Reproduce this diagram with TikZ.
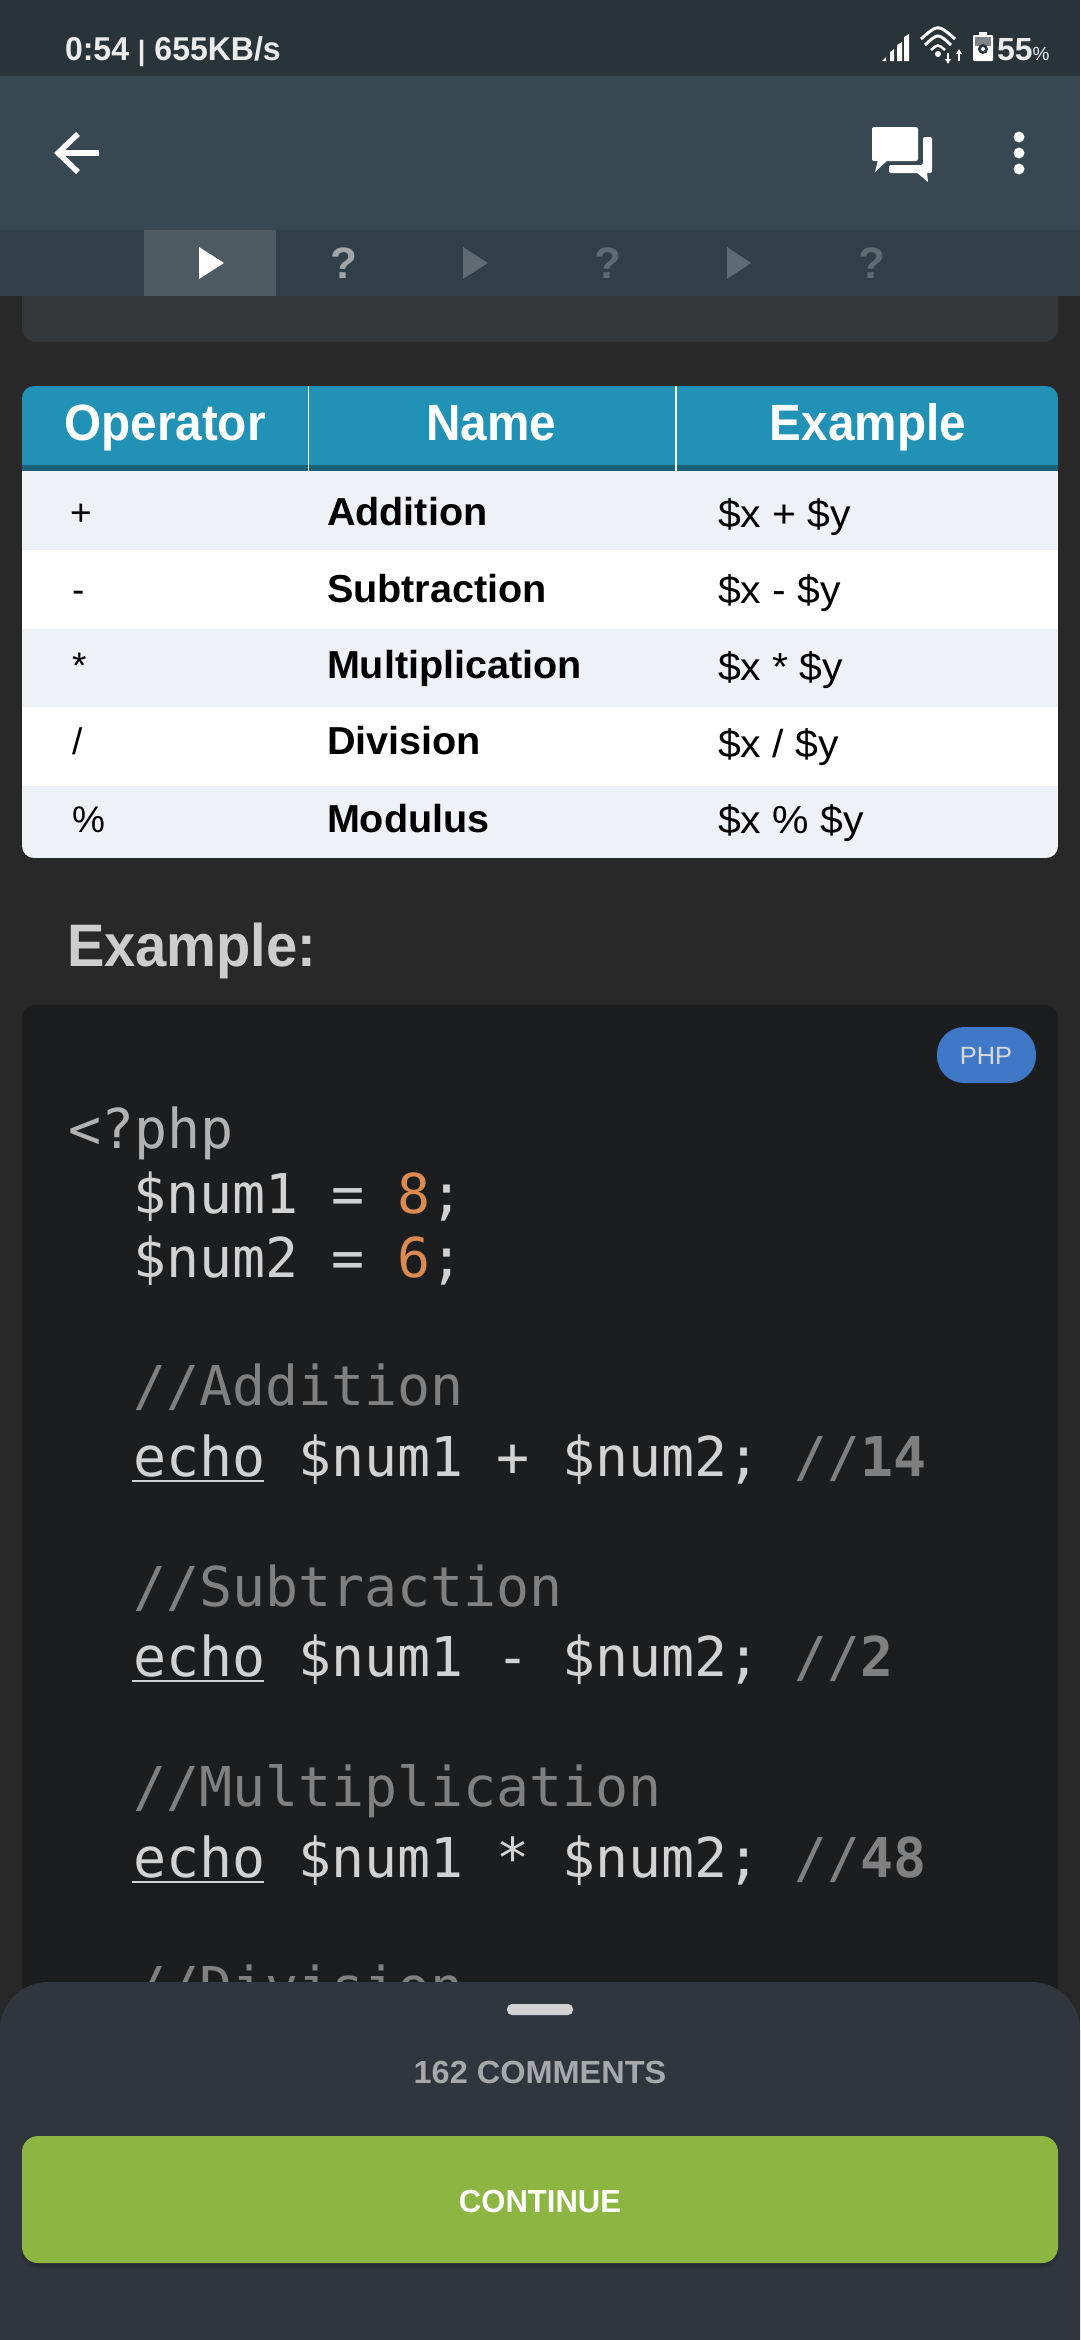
\documentclass[tikz,border=0pt]{standalone}
\usepackage{fontspec}
\usetikzlibrary{arrows.meta}
\setmainfont{Liberation Sans}
\newfontfamily\headf[FakeStretch=1.015]{Liberation Sans}
\newfontfamily\exf[FakeStretch=1.05]{Liberation Sans}
\newfontfamily\titlef[FakeStretch=0.935]{Liberation Sans}
\newfontfamily\statf[FakeStretch=0.97]{Liberation Sans}
\newfontfamily\monof{DejaVu Sans Mono}
\definecolor{statusbg}{HTML}{29333A}
\definecolor{appbg}{HTML}{384852}
\definecolor{tabbg}{HTML}{303F48}
\definecolor{tabact}{HTML}{4E5A62}
\definecolor{tabdim}{HTML}{5F6A72}
\definecolor{tabmid}{HTML}{A0A6AA}
\definecolor{pagebg}{HTML}{282828}
\definecolor{cardbg}{HTML}{34373A}
\definecolor{thead}{HTML}{2291B6}
\definecolor{theadd}{HTML}{1B6478}
\definecolor{rowa}{HTML}{EEF1F6}
\definecolor{codebg}{HTML}{1C1D1F}
\definecolor{codefg}{HTML}{D2D2D2}
\definecolor{codecm}{HTML}{808080}
\definecolor{codenum}{HTML}{DD8A50}
\definecolor{badge}{HTML}{3F78C6}
\definecolor{sheet}{HTML}{31363E}
\definecolor{btn}{HTML}{8DB542}
\definecolor{headg}{HTML}{CDCDCD}
\definecolor{cmt}{HTML}{A6A8AA}
\tikzset{
  txt/.style={inner sep=0pt,outer sep=0pt,anchor=base west},
  txtc/.style={inner sep=0pt,outer sep=0pt,anchor=base},
  hcell/.style={txtc,text=white,font=\titlef\bfseries\fontsize{51}{51}\selectfont},
  opcell/.style={txt,text=black,font=\fontsize{37}{37}\selectfont},
  namecell/.style={txt,text=black,font=\headf\bfseries\fontsize{39}{39}\selectfont},
  excell/.style={txt,text=black,font=\exf\fontsize{39}{39}\selectfont},
  codetxt/.style={txt,text=codefg,font=\monof\fontsize{54.9}{54.9}\selectfont},
  cmtxt/.style={codetxt,text=codecm},
  status/.style={txt,text=white!92!black,font=\statf\bfseries\fontsize{33}{33}\selectfont},
  tabq/.style={txtc,font=\bfseries\fontsize{44}{44}\selectfont},
}
\newcommand{\bd}[1]{{\bfseries #1}}
\begin{document}
\begin{tikzpicture}[x=1pt,y=-1pt]
\useasboundingbox (0,0) rectangle (1080,2340);
\fill[pagebg] (0,0) rectangle (1080,2340);
% top card
\fill[cardbg,rounded corners=14pt] (22,250) rectangle (1058,342);
% table
\begin{scope}
\clip[rounded corners=12pt] (22,386) rectangle (1058,858);
\fill[thead] (22,386) rectangle (1058,465);
\fill[theadd] (22,465) rectangle (1058,471);
\fill[rowa] (22,471) rectangle (1058,550);
\fill[white] (22,550) rectangle (1058,629);
\fill[rowa] (22,629) rectangle (1058,707);
\fill[white] (22,707) rectangle (1058,786);
\fill[rowa] (22,786) rectangle (1058,858);
\end{scope}
\draw[white,line width=1.5pt] (308.5,386) -- (308.5,471);
\draw[white,line width=1.5pt] (676,386) -- (676,471);
\node[hcell] (h1) at (165,440) {Operator};
\node[hcell] (h2) at (491,440) {Name};
\node[hcell] (h3) at (868,440) {Example};
\node[opcell] (o1) at (70,525) {+};
\node[opcell] (o2) at (72,602) {-};
\node[opcell] (o3) at (72,678) {*};
\node[opcell] (o4) at (72,754) {/};
\node[opcell] (o5) at (72,832) {\%};
\node[namecell] (n1) at (327,525) {Addition};
\node[namecell] (n2) at (327,602) {Subtraction};
\node[namecell] (n3) at (327,678) {Multiplication};
\node[namecell] (n4) at (327,754) {Division};
\node[namecell] (n5) at (327,832) {Modulus};
\node[excell] (e1) at (718,527) {\$x + \$y};
\node[excell] (e2) at (718,603) {\$x - \$y};
\node[excell] (e3) at (718,680) {\$x * \$y};
\node[excell] (e4) at (718,757) {\$x / \$y};
\node[excell] (e5) at (718,833) {\$x \% \$y};
% heading
\node[txt,text=headg,font=\titlef\bfseries\fontsize{60}{60}\selectfont] (exh) at (67,966) {Example:};
% code box
\fill[codebg,rounded corners=12pt] (22,1005) rectangle (1058,2100);
\fill[badge,rounded corners=27pt] (937,1027) rectangle (1036,1083);
\node[txtc,text=white!85!black,font=\headf\fontsize{25}{25}\selectfont] (php) at (986,1064) {PHP};
\node[codetxt,text=codefg!85!black] (c0) at (68,1148) {<?php};
\node[codetxt] (c1) at (133,1213) {\$num1 = \textcolor{codenum}{8};};
\node[codetxt] (c2) at (133,1277) {\$num2 = \textcolor{codenum}{6};};
\node[cmtxt] (c3) at (133,1405) {//Addition};
\node[codetxt] (c4) at (133,1476) {echo \$num1 + \$num2; \textcolor{codecm}{//\bd{14}}};
\node[cmtxt] (c5) at (133,1606) {//Subtraction};
\node[codetxt] (c6) at (133,1676) {echo \$num1 - \$num2; \textcolor{codecm}{//\bd{2}}};
\node[cmtxt] (c7) at (133,1806) {//Multiplication};
\node[codetxt] (c8) at (133,1877) {echo \$num1 * \$num2; \textcolor{codecm}{//\bd{48}}};
\node[cmtxt] (c9) at (133,2006) {//Division};
\draw[codefg,line width=2.6pt] (132,1481) -- (264,1481);
\draw[codefg,line width=2.6pt] (132,1681) -- (264,1681);
\draw[codefg,line width=2.6pt] (132,1882) -- (264,1882);
% bars
\fill[statusbg] (0,0) rectangle (1080,76);
\fill[appbg] (0,76) rectangle (1080,230);
\fill[tabbg] (0,230) rectangle (1080,296);
\fill[tabact] (144,230) rectangle (276,296);
\node[status] (time) at (65,60) {0:54 {\fontsize{28}{28}\selectfont|} 655KB/s};
\node[txt,text=white!92!black,font=\bfseries\fontsize{32}{32}\selectfont] (batt) at (997,60) {55{\mdseries\fontsize{19}{19}\selectfont\%}};
% signal
\fill[white] (882,61) -- (886,57) -- (886,61) -- cycle;
\fill[white] (890,61) -- (890,52) -- (894,49) -- (894,61) -- cycle;
\fill[white] (897,61) -- (897,45) -- (902,42) -- (902,61) -- cycle;
\fill[white] (904,61) -- (904,37) -- (909,34) -- (909,61) -- cycle;
% wifi
\draw[white,line width=3pt] (921,39) .. controls (938,24) .. (955,39);
\draw[white,line width=3pt] (925,45) .. controls (938,33) .. (951,45);
\draw[white,line width=2.5pt] (931,50) .. controls (938,44) .. (945,50);
\fill[white] (938,54) circle (3);
\draw[white,line width=2pt,-{Latex[length=5pt,width=7pt]}] (948,53) -- (948,64);
\draw[white,line width=2pt,-{Latex[length=5pt,width=7pt]}] (959,61) -- (959,49);
% battery
\fill[white,rounded corners=1pt] (973,35) rectangle (993,61);
\fill[white] (979,32) rectangle (987,36);
\fill[tabmid!80!black] (975,37) rectangle (991,46);
\fill[statusbg] (983,49) circle (5);
\fill[white] (983,49) circle (2);
% back arrow
\draw[white,line width=5.5pt] (58,153) -- (99,153);
\draw[white,line width=5.5pt,miter limit=10] (78,134) -- (58,153) -- (78,172);
% chat icon
\fill[white,rounded corners=2pt] (872,127) rectangle (918,161);
\fill[white] (878,160) -- (875,172) -- (888,160) -- cycle;
\fill[white,rounded corners=2pt] (923,137) -- (932,137) -- (932,173) -- (889,173) -- (889,165) -- (923,165) -- cycle;
\fill[white] (916,172) -- (928,182) -- (927,172) -- cycle;
\fill[white] (1019,137) circle (5.5) (1019,153) circle (5.5) (1019,169) circle (5.5);
% tabs
\fill[white] (199,247) -- (224,263) -- (199,279) -- cycle;
\node[tabq,text=tabmid] (q1) at (344,278) {?};
\fill[tabdim] (463,247) -- (488,263) -- (463,279) -- cycle;
\node[tabq,text=tabdim] (q2) at (608,278) {?};
\fill[tabdim] (727,247) -- (751,263) -- (727,279) -- cycle;
\node[tabq,text=tabdim] (q3) at (872,278) {?};
% bottom sheet
\begin{scope}
\clip (0,0) rectangle (1080,2340);
\fill[sheet,rounded corners=48pt] (0,2450) -- (0,1982) -- (1080,1982) -- (1080,2450) -- cycle;
\end{scope}
\fill[headg!90!white,rounded corners=5pt] (507,2004) rectangle (573,2015);
\node[txtc,text=cmt,font=\headf\bfseries\fontsize{32}{32}\selectfont] (cnt) at (540,2083) {162 COMMENTS};
\fill[black,opacity=.08,rounded corners=16pt] (22,2140) rectangle (1058,2269);
\fill[black,opacity=.10,rounded corners=16pt] (22,2138) rectangle (1058,2266);
\fill[btn,rounded corners=16pt] (22,2136) rectangle (1058,2263);
\node[txtc,text=white,font=\statf\bfseries\fontsize{32}{32}\selectfont] (cont) at (540,2212) {CONTINUE};
\end{tikzpicture}
\end{document}
